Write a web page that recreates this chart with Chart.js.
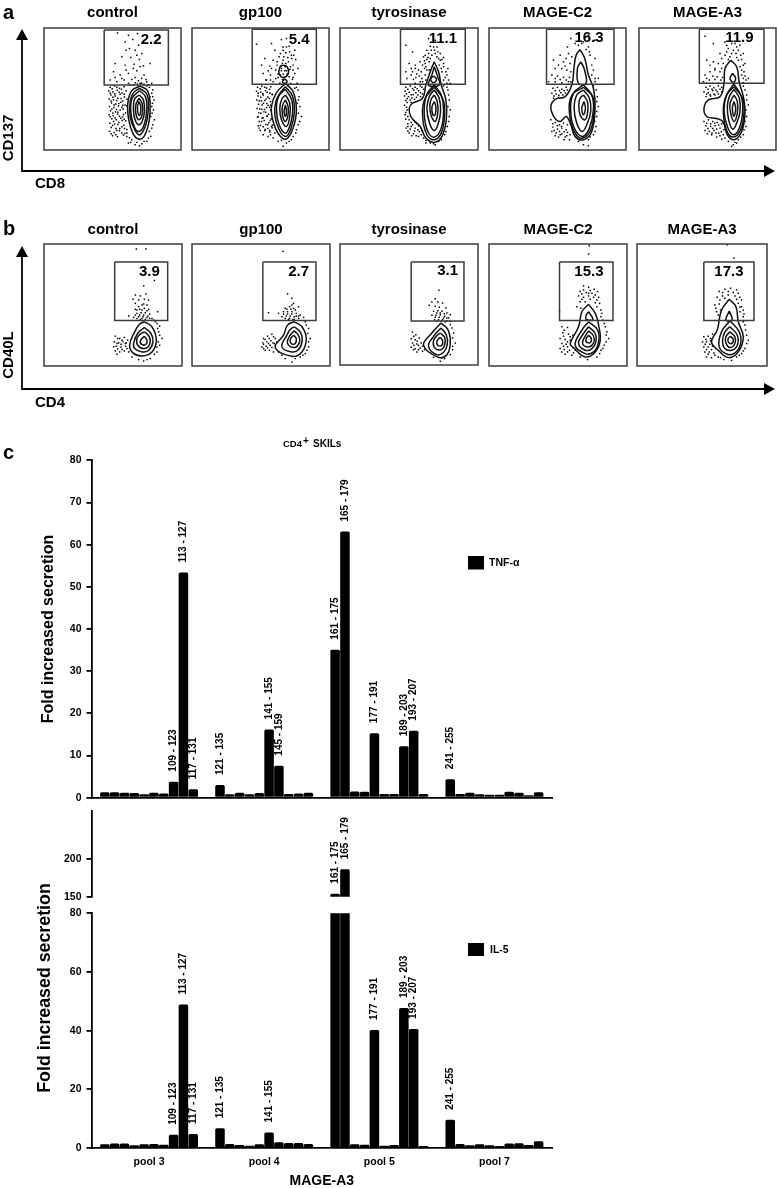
<!DOCTYPE html>
<html><head><meta charset="utf-8">
<style>html,body{margin:0;padding:0;background:#fff;width:777px;height:1188px;overflow:hidden}
.c{position:absolute}</style>
<script src="https://cdn.jsdelivr.net/npm/chart.js@4"></script>
</head><body>
<script>
// ---------- panel c data ----------
const poolLabels=['pool 3','pool 4','pool 5','pool 7'];
const tnfPool3=[1.3,1.3,1.2,1.1,0.8,1.2,1.0,3.8,53.4,2.0];
const tnfPool4=[3.0,0.8,1.2,0.8,1.1,16.2,7.6,0.85,1.0,1.15];
const tnfPool5=[35.1,63.1,1.45,1.4,15.3,0.85,0.85,12.2,15.9,0.9];
const tnfPool7=[4.4,0.85,1.2,0.8,0.7,0.7,1.4,1.2,0.6,1.3];
const il5Pool3=[1.3,1.5,1.5,0.9,1.3,1.4,1.1,4.5,48.9,4.8];
const il5Pool4=[6.7,1.4,1.0,0.8,1.3,5.3,2.0,1.7,1.7,1.4];
const il5Pool5=[154,186,1.3,1.1,40.2,0.8,1.0,47.7,40.6,0.7];
const il5Pool7=[9.6,1.4,0.9,1.3,0.9,0.7,1.5,1.6,1.0,2.3];
const tnfPeptides3=['','','','','','','','109 - 123','113 - 127','117 - 131'];
const tnfPeptides4=['121 - 135','','','','','141 - 155','145 - 159','','',''];
const tnfPeptides5=['161 - 175','165 - 179','','','177 - 191','','','189 - 203','193 - 207',''];
const tnfPeptides7=['241 - 255','','','','','','','','',''];
const il5Peptides4=['121 - 135','','','','','141 - 155','','','',''];
const tnfTicks=[0,10,20,30,40,50,60,70,80];
const il5LowTicks=[0,20,40,60,80];
const il5HighTicks=[150,200];

// ---------- panels a,b data: contour lines and events, [x,y,x,y,...] channel values ----------
const a1Dots=[330,262,343,258,358,265,372,260,326,273,338,276,351,271,366,279,378,272,332,285,345,288,360,283,373,291,327,297,340,300,353,295,368,303,381,298,334,309,347,312,362,307,375,315,328,320,341,323,355,318,369,327,331,333,346,336,360,331,376,339,327,345,339,348,352,343,367,351,335,357,348,360,362,355,377,363,329,370,343,373,356,368,371,376,333,383,347,386,365,381,380,389,328,395,342,398,358,393,374,401,337,408,352,411,370,406,388,414,352,98,385,105,412,100,375,125,398,118,415,135,388,145,405,150,425,160,365,170,392,172,418,178,345,190,375,195,402,192,430,197,340,215,360,225,385,220,410,212,432,225,450,190,330,240,350,245,372,240,395,238,415,242,438,238,455,250,385,250,405,248,425,250,445,255,458,270,462,300,460,330,463,360,455,385,452,410,440,425,425,432,410,428,395,420,380,410,385,430,418,438,450,290,455,320,452,350];
const a1More=[336,266,350,262,364,268,330,280,344,281,357,277,372,283,338,292,350,302,363,296,333,303,342,315,356,311,368,316,335,327,349,329,365,322,380,318,338,340,353,337,370,344,330,351,345,354,358,349,372,358,340,365,353,374,366,362,337,377,359,386,373,386,350,392,333,402,347,405,365,400,380,400,390,255,400,255,412,252,420,250,432,253,440,258,448,262,455,280,458,290,457,310,456,340,458,375,448,395,445,415,432,425,405,435,392,428,378,150,410,165,400,205,420,200,378,210,365,235,345,232,405,232,425,235,440,245];
const a1Contours=[[420,258,442,272,450,310,447,365,432,410,415,418,398,400,386,360,383,310,395,272],[418,265,440,282,445,320,438,372,420,405,405,392,390,350,390,305,400,278],[418,272,436,290,440,330,432,375,417,395,402,380,392,335,396,295],[417,285,430,300,433,335,426,365,416,375,405,360,400,330,403,298],[417,295,426,310,427,340,417,360,408,345,407,315],[417,305,422,320,420,345,415,345,412,320]];
const a2Dots=[773,262,786,258,800,264,813,260,770,274,783,277,797,272,810,279,775,288,790,285,804,291,818,284,771,300,785,303,799,297,812,305,776,313,791,310,805,317,772,326,786,329,800,323,813,331,777,339,792,336,806,343,773,352,787,355,801,349,814,357,778,365,793,362,807,369,775,378,790,381,804,375,817,384,781,392,796,389,810,397,790,405,805,410,770,132,815,130,845,118,860,115,825,150,850,140,868,138,885,150,795,175,820,180,842,160,858,158,875,165,888,178,785,195,810,198,832,185,850,180,866,185,880,195,895,205,790,220,812,225,828,210,842,198,856,200,870,208,885,220,800,240,820,245,835,232,850,222,862,222,878,238,892,250,845,212,855,212,848,190,858,190,842,225,840,250,872,250,890,262,898,290,900,320,905,350,895,375,888,400,875,420,860,430,850,440,835,425,820,415,810,392,892,310,885,265];
const a2More=[781,266,795,262,809,268,775,280,789,281,802,277,817,283,783,292,795,302,808,296,778,303,787,315,801,311,813,316,780,327,794,329,810,322,783,340,798,337,815,344,775,351,790,354,803,349,817,358,785,365,798,374,811,362,782,377,804,386,818,376,795,392,778,385,812,405,838,170,852,170,864,172,876,175,832,195,845,205,860,212,872,200,880,210,835,222,848,238,868,230,880,232,828,235,815,205,805,212,798,240,812,240,850,150,860,140,870,155,882,165,895,270,896,300,896,340,900,365,890,390,880,410,868,425,845,422,825,400,815,380];
const a2Contours=[[857,250,880,275,890,330,880,385,860,418,838,405,820,365,815,320,830,278],[857,260,878,288,884,335,874,385,858,410,838,390,825,345,828,305,842,278],[857,268,876,300,878,345,868,385,856,400,838,375,830,330,836,290],[857,285,870,310,870,350,860,380,845,360,840,325,846,298],[857,300,865,320,864,350,856,365,848,345,848,318],[857,315,860,335,857,350,853,335],[855,236,862,245,855,250,848,245],[848,195,862,200,865,222,850,232,838,220,840,202]];
const a3Dots=[212,262,225,258,240,262,255,258,210,274,222,277,236,271,250,272,265,268,208,288,220,290,234,284,248,285,262,282,212,302,225,300,238,298,208,316,216,330,210,345,222,360,235,362,212,358,218,372,232,375,245,372,258,385,213,385,225,388,240,385,252,395,265,400,222,400,235,402,250,410,265,415,212,135,232,155,280,115,300,120,295,140,275,150,285,138,305,140,265,170,280,160,298,150,315,160,325,172,222,190,240,195,255,185,270,190,325,190,338,205,212,215,232,215,250,210,268,205,282,210,320,215,335,225,215,235,235,238,252,228,270,225,280,235,325,240,345,250,240,250,262,245,275,248,228,205,245,222,325,258,338,270,342,300,345,330,340,365,332,395,318,420,300,435,285,430,272,430,290,165,305,170,275,178,315,180,282,185,312,195,272,200,318,205];
const a3More=[218,268,232,266,246,266,260,262,214,282,228,284,242,278,256,278,270,274,216,296,230,294,244,292,256,290,216,308,228,308,214,322,212,338,218,350,228,368,240,368,250,378,218,380,228,380,238,394,248,390,260,392,218,394,230,408,243,408,258,405,272,422,288,150,300,160,308,155,270,165,278,172,285,175,310,175,320,178,268,182,262,195,275,210,325,200,332,215,258,215,240,205,228,225,242,232,260,235,272,240,255,245,330,232,340,240,335,250,335,262,340,285,338,320,342,350,336,380,328,405,310,425,295,432];
const a3Contours=[[297,185,310,215,318,255,332,300,333,360,320,410,298,428,272,415,255,380,228,352,222,325,232,310,262,295,272,255,285,215],[297,200,306,225,312,255,280,255,290,225],[297,255,318,285,325,330,318,385,298,412,278,395,267,340,274,285],[297,262,322,295,328,335,320,395,298,420,275,405,262,340,270,295],[297,270,312,295,316,335,308,375,297,392,283,370,275,325,283,288],[297,285,306,305,308,335,300,365,287,345,284,315,288,298],[297,305,302,320,300,345,293,345,290,322],[295,228,304,237,295,248,286,237]];
const a4Dots=[218,265,232,262,245,268,258,262,215,280,228,282,242,278,256,280,268,275,220,295,235,292,248,285,212,360,225,368,238,375,250,370,262,375,218,382,232,388,245,385,258,390,215,395,228,400,245,402,260,408,235,412,252,420,270,405,268,420,272,115,290,100,325,105,345,120,262,140,285,130,305,130,325,140,240,165,265,160,275,170,330,165,345,175,220,180,250,185,270,190,335,195,225,205,245,205,260,210,272,215,335,225,355,235,215,225,232,228,250,232,268,232,345,245,205,245,225,245,245,248,265,245,340,265,352,290,355,320,350,350,348,380,340,405,325,420,310,435,295,425,325,438];
const a4More=[225,272,238,272,252,272,262,270,222,288,236,286,242,295,218,372,232,378,244,380,222,392,238,395,252,396,225,408,240,405,255,412,262,398,295,135,310,125,318,148,328,155,258,175,235,195,255,198,225,235,240,238,258,240,272,245,340,210,345,235,330,240,340,255,348,270,350,305,350,335,344,365,345,395,330,412];
const a4Contours=[[300,148,314,175,325,225,340,265,345,320,335,395,310,420,285,410,272,375,258,350,240,365,222,352,212,320,225,298,255,290,275,255,282,200,288,165],[302,185,312,205,318,250,295,250,292,205],[310,255,335,285,340,330,328,385,308,410,285,390,272,340,280,280],[310,262,338,290,342,335,332,390,308,415,285,400,268,340,276,285],[310,270,328,295,332,335,320,375,306,395,290,370,282,325,290,285],[310,285,322,305,323,335,314,360,300,345,296,315,300,295],[312,305,316,325,310,345,305,325]];
const a5Dots=[678,262,690,258,702,263,715,258,725,262,672,275,685,278,698,272,712,275,725,275,678,290,692,288,705,285,672,365,685,360,698,365,712,368,725,372,678,378,692,380,705,378,720,385,732,390,675,392,688,395,702,392,716,400,730,405,695,405,710,412,725,418,745,425,760,435,675,108,700,130,735,125,750,110,765,130,780,135,745,145,760,150,775,150,790,160,720,160,735,165,750,170,770,172,785,178,795,190,680,180,700,185,715,190,730,190,780,200,792,215,675,225,690,215,705,210,720,215,735,225,785,225,798,240,670,245,688,240,705,238,722,240,790,248,805,235,790,258,800,285,805,315,800,350,798,380,790,405,775,420,755,440,770,430];
const a5More=[684,268,696,268,708,270,720,268,680,282,690,284,702,282,715,282,680,370,692,372,704,370,716,376,684,386,698,386,710,388,724,396,682,402,696,400,708,400,720,408,735,415,740,135,755,130,770,140,740,155,755,160,768,160,782,165,725,175,745,178,775,180,790,195,690,195,705,205,725,205,785,210,795,228,680,235,698,228,712,230,728,232,790,235,680,250,698,250,715,250,795,270,800,300,798,330,795,365,792,390,782,412,765,428];
const a5Contours=[[752,180,770,200,778,248,790,290,795,340,785,395,762,420,742,405,728,365,705,355,680,350,672,325,685,300,720,290,732,250,735,205],[758,220,767,235,760,247,750,235],[762,252,784,290,788,335,778,385,760,405,742,380,732,330,740,285],[762,260,788,295,792,338,782,390,760,412,740,392,730,335,738,288],[762,268,778,295,780,335,770,370,758,388,746,360,742,320,748,290],[762,285,772,305,772,340,762,365,752,340,750,310],[762,305,767,325,762,350,757,325]];
const b1Dots=[345,378,358,385,372,382,342,395,355,398,368,395,382,390,348,408,362,410,376,408,345,422,358,425,372,422,350,432,385,425,395,440,408,118,437,118,462,212,430,228,405,255,420,258,437,252,398,268,415,270,432,268,445,270,405,280,425,285,440,285,472,305,385,318,405,298,418,298,432,295,445,298,410,310,422,308,435,308,448,312,400,322,415,320,428,320,440,322,455,325,420,328,435,328,465,335,478,348,475,365,485,385,478,405,470,425,450,445,430,452,415,448];
const b1More=[352,385,365,390,378,398,350,400,362,402,375,400,352,416,365,418,380,415,340,410,410,300,425,300,440,302,405,315,418,315,430,315,443,318,410,325,425,325,448,325,460,330,415,290,430,282,470,340,472,355,478,375,474,395,470,410,462,432,440,448];
const b1Contours=[[432,335,455,350,468,390,455,425,425,437,398,428,388,405,403,365,418,342],[432,352,452,370,458,395,445,420,425,425,403,415,400,398,412,370],[432,365,447,380,448,402,432,415,412,405,410,385,420,372],[432,378,440,390,437,402,425,403,420,392]];
const b2Dots=[790,385,802,378,815,372,788,398,800,395,812,392,825,385,785,410,798,408,810,405,822,400,795,420,808,420,820,425,835,425,845,435,848,125,862,252,875,265,880,280,855,295,868,290,880,295,895,290,805,308,835,310,850,305,862,305,875,305,888,310,900,315,845,320,858,318,870,318,882,320,895,325,910,322,865,328,878,328,915,335,925,355,930,385,925,410,915,430,900,440,875,455,855,445];
const b2More=[795,388,807,385,820,380,790,402,805,400,818,398,830,395,802,413,815,412,828,410,790,415,850,312,862,312,875,312,888,318,855,325,868,325,882,328,895,318,860,298,872,298,885,300,875,285,918,345,922,370,925,395,920,420,908,435,885,445];
const b2Contours=[[882,335,905,350,918,385,905,425,875,438,825,412,850,375,862,345],[882,350,900,365,906,390,895,418,875,425,845,410,860,375,870,358],[882,362,896,378,897,398,882,412,862,400,868,378],[880,375,888,385,885,400,873,400,870,388]];
const b3Dots=[232,352,242,360,228,372,240,375,252,370,232,385,245,388,258,385,228,398,240,402,255,400,268,405,245,412,311,227,300,252,290,262,308,262,322,265,282,272,300,275,312,278,332,280,295,290,308,288,320,290,335,295,345,300,290,302,302,302,315,300,328,305,340,310,298,315,310,315,322,315,335,318,345,330,355,355,360,385,352,405,345,420,328,432,315,440,295,428];
const b3More=[236,365,246,380,236,392,250,392,262,395,235,405,250,405,262,410,305,295,315,295,327,297,300,308,312,308,325,310,335,310,305,320,318,320,330,322,345,320,350,340,352,370,352,395,340,412];
const b3Contours=[[317,325,338,345,345,385,335,420,310,428,265,392,290,355],[317,340,333,360,336,390,325,413,305,420,280,395,295,365],[315,355,328,368,328,392,315,406,297,398,295,378,303,365],[315,368,322,378,320,392,308,392,305,380]];
const b4Dots=[245,350,262,352,248,368,265,372,278,375,240,385,255,388,270,390,245,400,258,402,272,405,240,415,252,418,268,420,285,420,255,432,275,435,300,440,322,448,327,108,325,133,238,305,310,228,325,232,342,238,300,245,318,248,335,250,352,245,295,258,310,262,325,258,340,262,355,262,300,275,315,275,345,278,290,290,302,295,350,290,362,300,362,320,372,340,380,365,385,385,372,405,362,420,350,440];
const b4More=[252,360,270,380,250,378,262,395,250,408,262,410,278,412,245,425,262,425,280,428,310,240,330,242,305,252,325,250,345,255,305,268,330,268,350,270,358,280,365,310,368,330,375,350,378,375,378,395,368,415,358,430];
const b4Contours=[[325,283,345,310,355,345,360,390,345,425,315,440,280,412,270,400,295,350,305,305],[325,305,338,328,318,328,318,315],[325,335,352,360,355,395,340,425,315,430,285,405,305,360],[325,350,345,370,347,395,335,415,315,420,295,400,310,370],[325,362,340,378,340,398,325,410,307,400,315,378],[325,375,333,385,330,397,318,395,318,385]];
const b5Dots=[672,380,685,378,698,372,668,395,680,395,692,392,672,410,685,410,698,408,675,425,688,425,702,428,680,440,695,442,715,440,732,448,742,105,762,145,718,245,735,238,752,235,770,240,712,262,728,258,745,255,765,258,780,262,705,285,718,282,775,280,785,290,710,305,722,300,780,305,792,312,790,335,797,360,805,390,795,415,785,430,770,440,755,450];
const b5More=[678,388,692,385,705,380,676,402,690,402,705,400,680,418,695,418,708,415,685,432,705,435,722,442,728,248,745,245,760,248,775,250,720,270,735,265,770,268,785,270,708,295,780,292,790,300,715,315,790,320,795,345,800,375,800,400,790,422,778,435];
const b5Contours=[[748,268,768,290,775,335,790,380,775,425,745,442,715,420,695,395,712,360,725,300],[748,303,757,330,738,330],[750,332,778,365,782,400,765,428,742,432,718,410,725,365],[750,350,772,375,772,405,755,420,735,415,728,392,735,365],[750,365,765,380,765,400,750,412,738,398,738,380],[752,378,760,388,755,400,745,395,745,385]];

const FONT='"Liberation Sans", Arial, sans-serif';
Chart.defaults.font.family=FONT;
Chart.defaults.font.weight='bold';
Chart.defaults.color='#000';
Chart.defaults.animation=false;

function addCanvas(left,top,w,h){
  const d=document.createElement('div');d.className='c';
  d.style.cssText=`left:${left}px;top:${top}px;width:${w}px;height:${h}px`;
  const c=document.createElement('canvas');d.appendChild(c);document.body.appendChild(d);return c;
}
const pts=a=>{const o=[];for(let i=0;i<a.length;i+=2)o.push({x:a[i],y:a[i+1]});return o;};

// ---------- backdrop: arrows and free text ----------
const freeText=[
 ['a',3,13,'bold 20px',0],['b',3,229,'bold 20px',0],['c',3,453,'bold 20px',0],
 ['CD137',9,138,'bold 15px',1],['CD8',35,184,'bold 15px',0],
 ['CD40L',9,355,'bold 15px',1],['CD4',35,403,'bold 15px',0],
 ['Fold increased secretion',45,988,'bold 17.8px',1],
 ['TNF-\u03b1',489,563,'bold 10.5px',0],['IL-5',490,950,'bold 10.5px',0],
 ['CD4',283,444,'bold 9.5px',0],['+',303,441,'bold 10px',0],['SKILs',313,444,'bold 10px',0]
];
const legendBoxes=[[468,556,16,13.5],[468,943,16,13]];
const axisArrows=[[22,171,29,775],[22,389,246,775]];
new Chart(addCanvas(0,0,777,1188),{type:'scatter',data:{datasets:[]},
 options:{responsive:true,maintainAspectRatio:false,events:[],plugins:{legend:{display:false},tooltip:{enabled:false}},scales:{x:{display:false},y:{display:false}}},
 plugins:[{id:'backdrop',afterDraw(ch){const g=ch.ctx;g.save();g.fillStyle='#000';g.strokeStyle='#000';g.lineWidth=1.8;
  axisArrows.forEach(([x,y,top,right])=>{
    g.beginPath();g.moveTo(x,top+8);g.lineTo(x,y);g.lineTo(right-8,y);g.stroke();
    g.beginPath();g.moveTo(x,top);g.lineTo(x-6,top+11);g.lineTo(x+6,top+11);g.closePath();g.fill();
    g.beginPath();g.moveTo(right,y);g.lineTo(right-11,y-6);g.lineTo(right-11,y+6);g.closePath();g.fill();
  });
  legendBoxes.forEach(b=>g.fillRect(...b));
  g.textBaseline='middle';
  freeText.forEach(([t,x,y,f,rot])=>{g.save();g.font=f+' '+FONT;g.translate(x,y);
    if(rot){g.rotate(-Math.PI/2);g.textAlign='center';}else g.textAlign='left';
    g.fillText(t,0,0);g.restore();});
  g.restore();}}]});

// ---------- flow cytometry panels ----------
const GRAY='#3c3c3c';
function flowPanel(p){
  const [ox,oy]=p.off,[x0,x1,y0,y1]=p.ext;
  const L=Math.round(ox+x0/3),R=Math.round(ox+x1/3),T=Math.round(oy+y0/3),B=Math.round(oy+y1/3);
  const top=p.canvasTop;
  const [g0,g1,g2,g3]=p.gate;
  const datasets=[{data:pts(p.dots),pointStyle:'rect',pointRadius:1.05,backgroundColor:'#000',borderWidth:0,order:100,showLine:false}];
  p.contours.forEach((c,i)=>{datasets.push({data:pts(c.concat(c.slice(0,2))),showLine:true,tension:0.42,pointRadius:0,borderColor:'#111',borderWidth:1.5,
     fill:i===0?'shape':false,backgroundColor:'#fff',order:50-i});});
  datasets.push({data:pts([g0,g2,g1,g2,g1,g3,g0,g3,g0,g2]),showLine:true,tension:0,pointRadius:0,borderColor:GRAY,borderWidth:1.5,order:0});
  new Chart(addCanvas(L-2,top,R-L+4,B+2-top),{type:'scatter',data:{datasets},
   options:{responsive:true,maintainAspectRatio:false,events:[],layout:{autoPadding:false,padding:{left:2,right:2,bottom:2,top:0}},
    plugins:{legend:{display:false},tooltip:{enabled:false},
      title:{display:true,text:p.title,font:{size:15,weight:'bold',lineHeight:1.2},padding:{top:4,bottom:T-top-22}}},
    scales:{x:{type:'linear',display:false,min:x0,max:x1},y:{type:'linear',display:false,min:y0,max:y1,reverse:true}}},
   plugins:[{id:'frame',afterDraw(ch){const g=ch.ctx,a=ch.chartArea;g.save();g.strokeStyle=GRAY;g.lineWidth=1.5;
     g.strokeRect(a.left,a.top,a.right-a.left,a.bottom-a.top);
     g.fillStyle='#000';g.font='bold 15px '+FONT;g.textAlign='center';g.textBaseline='middle';
     g.fillText(p.value,ch.scales.x.getPixelForValue(p.vx),ch.scales.y.getPixelForValue(p.vy));g.restore();}}]});
}
const rowA={canvasTop:0},rowB={canvasTop:217};
[
 {...rowA,title:'control',value:'2.2',vx:453,vy:118,off:[0,0],ext:[131,543,83,451],gate:[312,505,89,255],dots:a1Dots.concat(a1More),contours:a1Contours},
 {...rowA,title:'gp100',value:'5.4',vx:898,vy:118,off:[0,0],ext:[576,988,83,451],gate:[757,950,87,253],dots:a2Dots.concat(a2More),contours:a2Contours},
 {...rowA,title:'tyrosinase',value:'11.1',vx:323,vy:116,off:[335,0],ext:[15,428,83,451],gate:[196,390,87,253],dots:a3Dots.concat(a3More),contours:a3Contours},
 {...rowA,title:'MAGE-C2',value:'16.3',vx:327,vy:113,off:[480,0],ext:[26,438,83,451],gate:[199,402,87,253],dots:a4Dots.concat(a4More),contours:a4Contours},
 {...rowA,title:'MAGE-A3',value:'11.9',vx:778,vy:113,off:[480,0],ext:[477,888,83,451],gate:[658,852,87,250],dots:a5Dots.concat(a5More),contours:a5Contours},
 {...rowB,title:'control',value:'3.9',vx:447,vy:185,off:[0,210],ext:[131,545,103,467],gate:[343,502,157,331],dots:b1Dots.concat(b1More),contours:b1Contours},
 {...rowB,title:'gp100',value:'2.7',vx:895,vy:185,off:[0,210],ext:[576,989,103,467],gate:[788,947,157,331],dots:b2Dots.concat(b2More),contours:b2Contours},
 {...rowB,title:'tyrosinase',value:'3.1',vx:337,vy:170,off:[335,215],ext:[15,428,88,451],gate:[228,386,142,319],dots:b3Dots.concat(b3More),contours:b3Contours},
 {...rowB,title:'MAGE-C2',value:'15.3',vx:326,vy:185,off:[480,210],ext:[27,440,103,467],gate:[238,398,157,331],dots:b4Dots.concat(b4More),contours:b4Contours},
 {...rowB,title:'MAGE-A3',value:'17.3',vx:747,vy:185,off:[480,210],ext:[472,861,103,467],gate:[672,822,157,331],dots:b5Dots.concat(b5More),contours:b5Contours}
].forEach(flowPanel);

// ---------- bar charts ----------
function slots(pools){return Array.from({length:10},(_,i)=>({data:pools.map(p=>p[i]),backgroundColor:'#000',borderWidth:0,borderRadius:{topLeft:1.5,topRight:1.5},borderSkipped:'bottom',categoryPercentage:0.853,barPercentage:0.97}));}
const peptideLabels=peps=>({id:'peptides',afterDatasetsDraw(ch){
  const g=ch.ctx,ys=ch.scales.y;g.save();g.fillStyle='#000';g.font='bold 10px '+FONT;g.textAlign='left';g.textBaseline='middle';
  ch.data.datasets.forEach((ds,i)=>{const m=ch.getDatasetMeta(i);
    peps.forEach((row,p)=>{const t=row[i],v=ds.data[p];if(!t||v>ys.max||v<ys.min)return;
      const el=m.data[p];g.save();g.translate(el.x,el.y-10);g.rotate(-Math.PI/2);g.fillText(t,0,0);g.restore();});});
  g.restore();}});
function barChart(o){
  const width=640;
  return new Chart(addCanvas(0,o.top,width,o.height),{type:'bar',
   data:{labels:poolLabels,datasets:slots(o.pools)},
   options:{responsive:true,maintainAspectRatio:false,events:[],
    layout:{autoPadding:false,padding:{left:0,right:width-552,top:o.padTop||0,bottom:o.padBottom||0}},
    plugins:{legend:{display:false},tooltip:{enabled:false},title:{display:false}},
    scales:{
     x:{offset:true,grid:{display:false},border:{display:o.xBorder!==false,color:'#000',width:1.8},
        ticks:{display:!!o.xTicks,font:{size:10.5,weight:'bold'},padding:0,maxRotation:0},
        title:o.xTitle?{display:true,text:o.xTitle,font:{size:14,weight:'bold',lineHeight:1},padding:0}:{display:false},
        afterFit:s=>{s.height=o.xHeight;}},
     y:{min:o.min,max:o.max,border:{color:'#000',width:1.8},
        grid:{drawOnChartArea:false,drawTicks:true,tickLength:5,tickColor:'#000',lineWidth:1.8},
        afterBuildTicks:s=>{s.ticks=o.ticks.map(v=>({value:v}));},
        ticks:{font:{size:10.5,weight:'bold'},padding:5},
        title:o.yTitle?{display:true,text:o.yTitle,font:{size:16,weight:'bold',lineHeight:1.2},padding:{top:39,bottom:0}}:{display:false},
        afterFit:s=>{s.width=91.5;}}}},
   plugins:[peptideLabels(o.peptides)]});
}
barChart({top:449,height:360,padTop:8,padBottom:8,pools:[tnfPool3,tnfPool4,tnfPool5,tnfPool7],peptides:[tnfPeptides3,tnfPeptides4,tnfPeptides5,tnfPeptides7],
  min:0,max:80,ticks:tnfTicks,xHeight:1,yTitle:'Fold increased secretion'});
const il5Pools=[il5Pool3,il5Pool4,il5Pool5,il5Pool7];
const il5Peps=[tnfPeptides3,il5Peptides4,tnfPeptides5,tnfPeptides7];
barChart({top:800,height:108,padBottom:8,pools:il5Pools,peptides:il5Peps,min:150,max:262.5,ticks:il5HighTicks,xBorder:false,xHeight:1});
barChart({top:902,height:286,padTop:8,pools:il5Pools,peptides:il5Peps,min:0,max:80,ticks:il5LowTicks,xTicks:true,xTitle:'MAGE-A3',xHeight:40});
</script>
</body></html>
